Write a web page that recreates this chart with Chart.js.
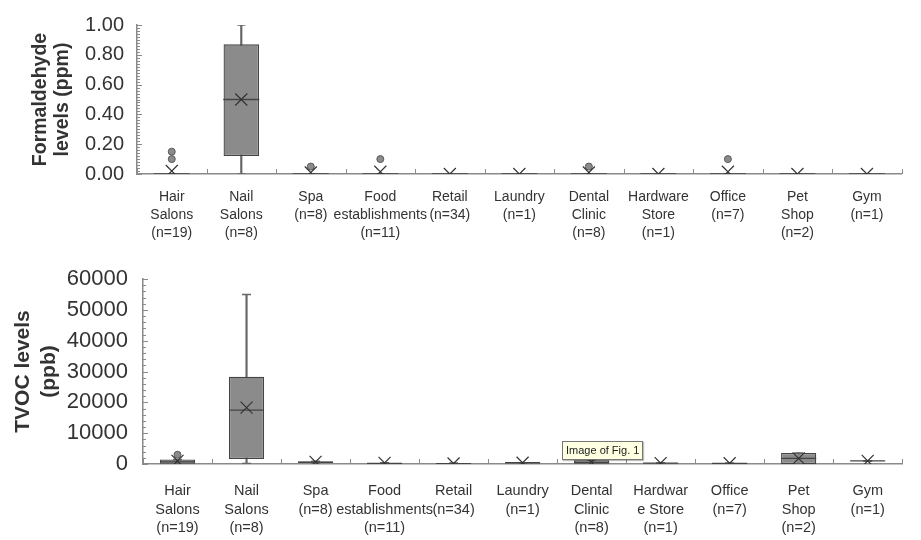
<!DOCTYPE html>
<html>
<head>
<meta charset="utf-8">
<script src="https://cdn.jsdelivr.net/npm/chart.js@4.4.0/dist/chart.umd.min.js"></script>
<style>
  body { margin: 0; background: #fff; width: 921px; height: 540px; position: relative; overflow: hidden; font-family: "Liberation Sans", Arial, sans-serif; }
  canvas { position: absolute; left: 0; }
  #formChart { top: 0; }
  #tvocChart { top: 250px; }
  #tip { position: absolute; left: 562px; top: 441px; height: 17px; padding: 0 3px; border: 1px solid #767676; background: #ffffe1; font-size: 11px; line-height: 17px; color: #222; box-shadow: 1px 1px 1px rgba(0,0,0,0.25); }
</style>
</head>
<body>
<canvas id="formChart" width="921" height="250"></canvas>
<canvas id="tvocChart" width="921" height="290"></canvas>
<div id="tip">Image of Fig. 1</div>
<script>
const formLabels = [['Hair', 'Salons', '(n=19)'], ['Nail', 'Salons', '(n=8)'], ['Spa', '(n=8)'],
  ['Food', 'establishments', '(n=11)'], ['Retail', '(n=34)'], ['Laundry', '(n=1)'],
  ['Dental', 'Clinic', '(n=8)'], ['Hardware', 'Store', '(n=1)'], ['Office', '(n=7)'],
  ['Pet', 'Shop', '(n=2)'], ['Gym', '(n=1)']];
const tvocLabels = [['Hair', 'Salons', '(n=19)'], ['Nail', 'Salons', '(n=8)'], ['Spa', '(n=8)'],
  ['Food', 'establishments', '(n=11)'], ['Retail', '(n=34)'], ['Laundry', '(n=1)'],
  ['Dental', 'Clinic', '(n=8)'], ['Hardwar', 'e Store', '(n=1)'], ['Office', '(n=7)'],
  ['Pet', 'Shop', '(n=2)'], ['Gym', '(n=1)']];

// formaldehyde (ppm)
const formMin    = [0, 0,    0, 0, 0, 0, 0, 0, 0, 0, 0];
const formQ1     = [0, 0.12, 0, 0, 0, 0, 0, 0, 0, 0, 0];
const formMedian = [0, 0.50, 0, 0, 0, 0, 0, 0, 0, 0, 0];
const formQ3     = [0, 0.87, 0, 0, 0, 0, 0, 0, 0, 0, 0];
const formMax    = [0, 1.00, 0, 0, 0, 0, 0, 0, 0, 0, 0];
const formMean   = [0.02, 0.50, 0.01, 0.015, 0, 0, 0.01, 0, 0.015, 0, 0];
const formOutliers = [[0.10, 0.15], [], [0.05], [0.10], [], [], [0.05], [], [0.10], [], []];

// TVOC (ppb)
const tvocMin    = [0,    200,   300, 100, 50,  400, 100,  300, 100, 0,    1000];
const tvocQ1     = [100,  1600,  300, 100, 50,  400, 100,  300, 100, 0,    1000];
const tvocMedian = [700,  17500, 600, 200, 100, 400, 500,  300, 200, 1800, 1000];
const tvocQ3     = [1500, 28300, 800, 300, 200, 400, 1200, 300, 300, 3600, 1000];
const tvocMax    = [1500, 55000, 900, 400, 300, 400, 1200, 300, 300, 3600, 1000];
const tvocMean   = [1000, 18300, 700, 350, 150, 400, 600,  300, 250, 1800, 1000];
const tvocOutliers = [[3000], [], [], [], [], [], [], [], [], [], []];

const axisGrey = '#8a8a8a';
const textGrey = '#333';

function axisMarks(minorStep, majorStep) {
  return {
    id: 'axisMarks',
    afterDraw(chart) {
      const x = chart.scales.x, y = chart.scales.y, ctx = chart.ctx;
      ctx.save();
      ctx.strokeStyle = axisGrey;
      ctx.lineWidth = 1;
      ctx.beginPath();
      for (let i = 0; i <= x.getLabels().length; i++) {
        const px = Math.round(x.getPixelForValue(i - 0.5)) + 0.5;
        ctx.moveTo(px, y.bottom);
        ctx.lineTo(px, y.bottom - 5);
      }
      const n = Math.round((y.max - y.min) / minorStep);
      const per = Math.round(majorStep / minorStep);
      for (let k = 0; k <= n; k++) {
        const py = Math.round(y.getPixelForValue(y.min + k * minorStep)) + 0.5;
        const len = k % per === 0 ? 5 : 3;
        ctx.moveTo(x.left, py);
        ctx.lineTo(x.left + len, py);
      }
      ctx.stroke();
      ctx.restore();
    }
  };
}

function boxDatasets(min, q1, median, q3, max, mean, outliers, opts) {
  const sets = [
    { type: 'bar', data: min.map((v, i) => [v, max[i]]), grouped: false, barThickness: 1.5,
      backgroundColor: '#666', borderWidth: 0, order: 4 },
    { type: 'bar', data: q1.map((v, i) => [v, q3[i]]), grouped: false, barPercentage: 0.51, categoryPercentage: 1,
      backgroundColor: '#8b8b8b', borderColor: '#444', borderWidth: 1.3, borderSkipped: false, order: 3 },
    { type: 'line', data: max, showLine: false, pointStyle: 'line', pointRadius: opts.cap,
      borderColor: '#666', pointBorderWidth: 1.5, order: 2 },
    { type: 'line', data: min, showLine: false, pointStyle: 'line', pointRadius: opts.cap,
      borderColor: '#666', pointBorderWidth: 1.5, order: 2 },
    { type: 'line', data: median, showLine: false, pointStyle: 'line', pointRadius: opts.half,
      borderColor: '#444', pointBorderWidth: 1.3, order: 1 },
    { type: 'line', data: mean, showLine: false, pointStyle: 'crossRot', pointRadius: 8.5,
      borderColor: '#333', pointBorderWidth: 1.2, clip: 0, order: 0 }
  ];
  const most = Math.max(...outliers.map(o => o.length));
  for (let k = 0; k < most; k++) {
    sets.push({ type: 'line', data: outliers.map(o => o[k] ?? null), showLine: false, pointStyle: 'circle',
      pointRadius: 3.5, pointBackgroundColor: '#8b8b8b', pointBorderColor: '#5a5a5a', pointBorderWidth: 1, order: 0 });
  }
  return sets;
}

function makeChart(id, labels, datasets, cfg) {
  return new Chart(document.getElementById(id).getContext('2d'), {
    type: 'bar',
    data: { labels, datasets },
    options: {
      responsive: false,
      animation: false,
      events: [],
      layout: { padding: cfg.padding },
      plugins: { legend: { display: false }, tooltip: { enabled: false } },
      scales: {
        x: {
          grid: { display: false, drawTicks: false },
          border: { color: axisGrey, width: 1.5 },
          ticks: { autoSkip: false, maxRotation: 0, color: textGrey, padding: cfg.xPad,
            font: { family: 'Liberation Sans', size: cfg.xFont, lineHeight: cfg.xLine } },
          afterFit: s => { s.height = cfg.xHeight; }
        },
        y: {
          min: 0, max: cfg.yMax,
          grid: { display: false, drawTicks: false },
          border: { color: axisGrey, width: 1.5 },
          ticks: { stepSize: cfg.major, autoSkip: false, color: textGrey, padding: cfg.yPad,
            font: { family: 'Liberation Sans', size: cfg.yFont },
            callback: cfg.fmt },
          title: { display: true, text: cfg.title, color: textGrey, padding: 0,
            font: { family: 'Liberation Sans', size: cfg.titleFont, weight: 'bold', lineHeight: cfg.titleLine } },
          afterFit: s => { s.width = cfg.yWidth; }
        }
      }
    },
    plugins: [axisMarks(cfg.minor, cfg.major)]
  });
}

makeChart('formChart', formLabels,
  boxDatasets(formMin, formQ1, formMedian, formQ3, formMax, formMean, formOutliers, { cap: 4, half: 18 }),
  { padding: { left: 29, right: 7, top: 15, bottom: 0 }, xHeight: 76, yWidth: 108, yMax: 1,
    major: 0.2, minor: 0.02, fmt: v => v.toFixed(2), yFont: 20, yPad: 13, xFont: 14, xLine: 1.29, xPad: 14,
    title: ['Formaldehyde', 'levels (ppm)'], titleFont: 19.5, titleLine: 1.15 });

makeChart('tvocChart', tvocLabels,
  boxDatasets(tvocMin, tvocQ1, tvocMedian, tvocQ3, tvocMax, tvocMean, tvocOutliers, { cap: 4.5, half: 17.5 }),
  { padding: { left: 10, right: 9, top: 29, bottom: 0 }, xHeight: 76, yWidth: 133, yMax: 60000,
    major: 10000, minor: 2000, fmt: v => String(v), yFont: 22, yPad: 15, xFont: 14.5, xLine: 1.28, xPad: 18,
    title: ['TVOC levels', '(ppb)'], titleFont: 21, titleLine: 1.25 });
</script>
</body>
</html>
